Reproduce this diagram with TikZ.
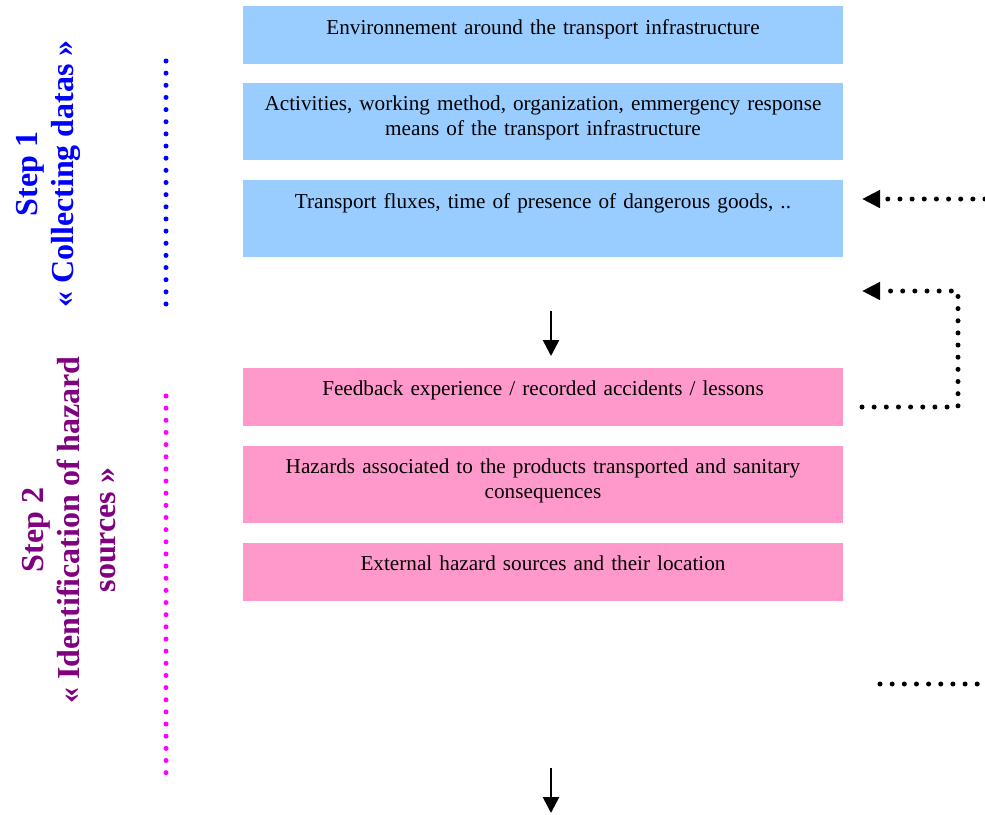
\documentclass[tikz,border=0pt]{standalone}
\usepackage{fontspec}
\setmainfont{Liberation Serif}
\usetikzlibrary{positioning, arrows.meta}
\definecolor{boxblue}{RGB}{153,204,255}
\definecolor{boxpink}{RGB}{255,153,204}
\definecolor{stepblue}{RGB}{0,0,255}
\definecolor{steppurple}{RGB}{128,0,128}
\definecolor{dotpink}{RGB}{255,0,255}
\tikzset{
    box/.style={anchor=north, minimum width=600pt, inner sep=0pt},
    bluebox/.style={box, fill=boxblue},
    pinkbox/.style={box, fill=boxpink},
    boxtext/.style={inner sep=0pt, text width=590pt, align=center,
        font=\fontsize{21.2}{25}\selectfont},
    steplabel/.style={rotate=90, align=center, inner sep=0pt,
        font=\fontsize{32}{36}\selectfont\bfseries},
    dots/.style={line width=5pt, line cap=round, dash pattern=on 0pt off 12.15pt},
    flow/.style={line width=2.6pt, -{Triangle[length=16pt, width=16pt]}},
    back/.style={dots, -{Triangle[length=18pt, width=17pt]}},
}

\begin{document}
\begin{tikzpicture}[x=1pt, y=-1pt]
    \useasboundingbox (0,0) rectangle (985,814);

    % step 1
    \node[bluebox, minimum height=58pt] (box1) at (543,6) {};
    \node[bluebox, minimum height=77pt] (box2) at (543,83) {};
    \node[bluebox, minimum height=77pt] (box3) at (543,180) {};
    \node[boxtext, below=13pt of box1.north] (txt1) {Environnement around the transport infrastructure};
    \node[boxtext, below=13pt of box2.north] (txt2) {Activities, working method, organization, emmergency response\\means of the transport infrastructure};
    \node[boxtext, below=13pt of box3.north] (txt3) {Transport fluxes, time of presence of dangerous goods, ..};

    % step 2
    \node[pinkbox, minimum height=58pt] (box4) at (543,368) {};
    \node[pinkbox, minimum height=77pt] (box5) at (543,446) {};
    \node[pinkbox, minimum height=58pt] (box6) at (543,543) {};
    \node[boxtext, below=13pt of box4.north] (txt4) {Feedback experience / recorded accidents / lessons};
    \node[boxtext, below=13pt of box5.north] (txt5) {Hazards associated to the products transported and sanitary\\consequences};
    \node[boxtext, below=13pt of box6.north] (txt6) {External hazard sources and their location};

    % labels on the left
    \node[steplabel, text=stepblue] (s1) at (48,174) {Step 1\\« Collecting datas »};
    \node[steplabel, text=steppurple] (s2) at (69,530) {Step 2\\« Identification of hazard\\sources »};

    \coordinate (v1) at (166,61);
    \coordinate (v2) at (166,306);
    \coordinate (v3) at (166,396);
    \coordinate (v4) at (166,773);
    \draw[dots, stepblue] (v1) -- (v2);
    \draw[dots, dotpink] (v3) -- (v4);

    % flow arrows
    \coordinate (a1) at (551,311);
    \coordinate (a2) at (551,356);
    \coordinate (a3) at (551,768);
    \coordinate (a4) at (551,813);
    \draw[flow] (a1) -- (a2);
    \draw[flow] (a3) -- (a4);

    % loops on the right
    \coordinate (r1) at (985,199);
    \coordinate (r2) at (862,199);
    \coordinate (r3) at (862,407);
    \coordinate (r4) at (958,291);
    \coordinate (r5) at (862,291);
    \coordinate (r6) at (880,684);
    \coordinate (r7) at (985,684);
    \draw[back] (r1) -- (r2);
    \draw[back] (r3) -| (r4) -- (r5);
    \draw[dots] (r6) -- (r7);
\end{tikzpicture}
\end{document}
